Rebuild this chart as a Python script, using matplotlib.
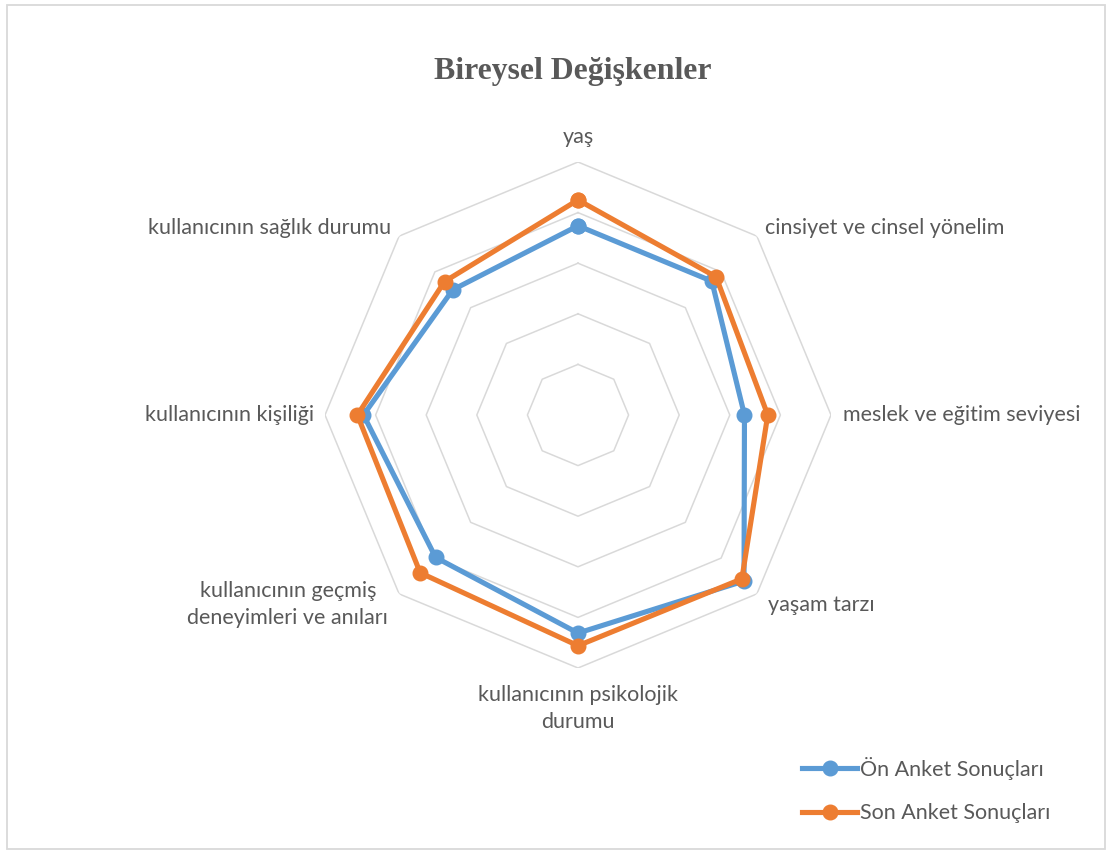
import numpy as np
import matplotlib.pyplot as plt
from matplotlib.lines import Line2D
from matplotlib.patches import Rectangle

# Radar chart data: categories clockwise from the top
categories = [
    "yaş",
    "cinsiyet ve cinsel yönelim",
    "meslek ve eğitim seviyesi",
    "yaşam tarzı",
    "kullanıcının psikolojik\ndurumu",
    "kullanıcının geçmiş\ndeneyimleri ve anıları",
    "kullanıcının kişiliği",
    "kullanıcının sağlık durumu",
]
on_anket = [3.74, 3.74, 3.29, 4.64, 4.31, 3.98, 4.24, 3.50]
son_anket = [4.25, 3.86, 3.75, 4.58, 4.56, 4.41, 4.36, 3.73]
series_names = ["Ön Anket Sonuçları", "Son Anket Sonuçları"]

BLUE = "#5B9BD5"
ORANGE = "#ED7D31"
GRID = "#D9D9D9"
TEXT = "#595959"
LABEL_FONT = ["Lato", "DejaVu Sans"]
LABEL_SIZE = 15.5

n = len(categories)
angles = np.arange(n) * 2 * np.pi / n

fig = plt.figure(figsize=(11.06, 8.5), dpi=100)

# light border round the chart area
fig.patches.append(Rectangle((6.5 / 1106, 1 / 850), 1098 / 1106, 844.5 / 850,
                             transform=fig.transFigure, fill=False,
                             edgecolor=GRID, linewidth=1.3))

cx, cy, R = 578 / 1106, 1 - 415 / 850, 253
ax = fig.add_axes([cx - R / 1106, cy - R / 850, 2 * R / 1106, 2 * R / 850],
                  projection="polar")
ax.set_theta_offset(np.pi / 2)
ax.set_theta_direction(-1)
ax.set_ylim(0, 5)
ax.grid(False)
ax.spines["polar"].set_visible(False)
ax.set_xticks([])
ax.set_yticks([])
ax.patch.set_alpha(0)

# octagon grid rings
closed = np.append(angles, angles[0])
for level in range(1, 6):
    ax.plot(closed, [level] * (n + 1), color=GRID, linewidth=1.1, zorder=1)

for vals, color in [(on_anket, BLUE), (son_anket, ORANGE)]:
    v = list(vals) + [vals[0]]
    ax.plot(closed, v, color=color, linewidth=3.7, marker="o",
            markersize=10.5, solid_joinstyle="round", zorder=3,
            clip_on=False)

# category labels around the outside: (radius, ha, va)
label_pos = [
    (5.49, "center", "center"),
    (5.22, "left", "center"),
    (5.24, "left", "center"),
    (5.30, "left", "center"),
    (5.34, "center", "top"),
    (5.30, "right", "center"),
    (5.22, "right", "center"),
    (5.22, "right", "center"),
]
for ang, lab, (r, ha, va) in zip(angles, categories, label_pos):
    ax.text(ang, r, lab, ha=ha, va=va, multialignment="center",
            fontsize=LABEL_SIZE, color=TEXT, family=LABEL_FONT,
            linespacing=1.45)

fig.text(573 / 1106, 1 - 72 / 850, "Bireysel Değişkenler",
         ha="center", va="center", fontsize=22.9, fontweight="bold",
         color=TEXT, family=["Liberation Serif", "DejaVu Serif"])

handles = [Line2D([], [], color=c, linewidth=3.7, marker="o", markersize=10.5)
           for c in (BLUE, ORANGE)]
fig.legend(handles, series_names, loc="center left",
           bbox_to_anchor=(783 / 1106, 1 - 790 / 850), frameon=False,
           prop={"family": LABEL_FONT, "size": LABEL_SIZE}, labelcolor=TEXT,
           handlelength=2.55, handletextpad=0.12, labelspacing=1.1)

fig.savefig("out.png", dpi=100, facecolor="white")
